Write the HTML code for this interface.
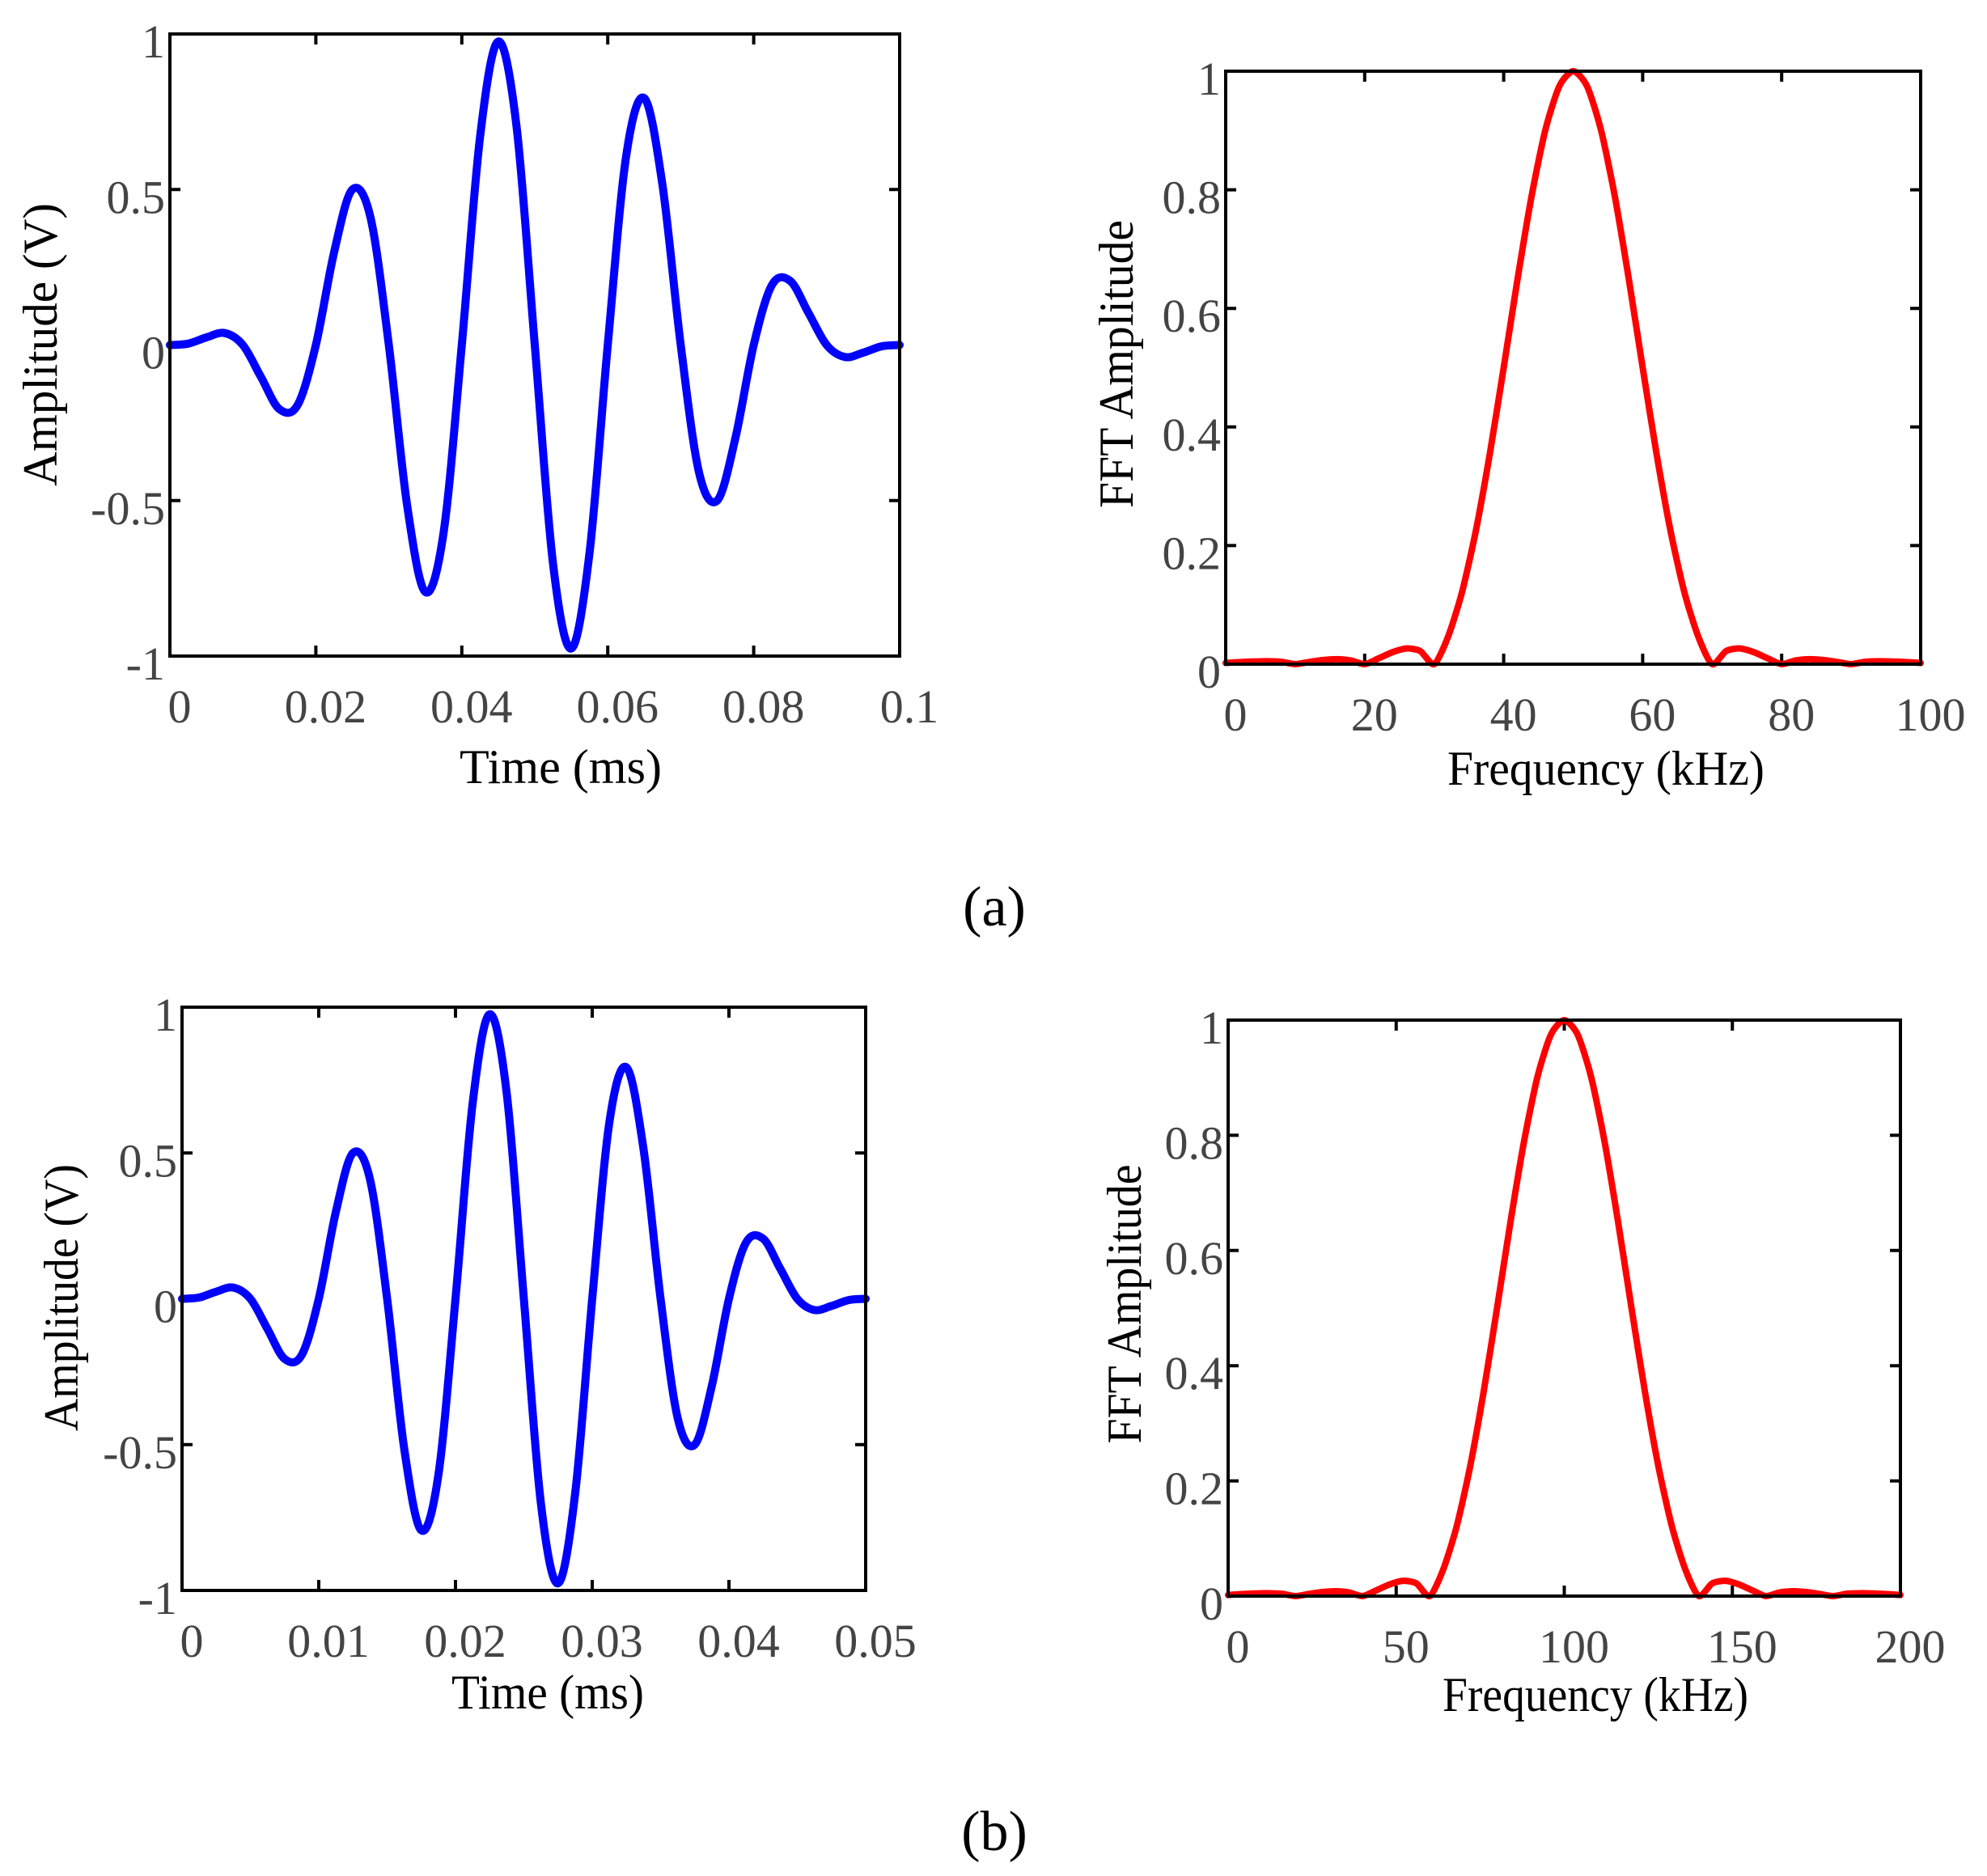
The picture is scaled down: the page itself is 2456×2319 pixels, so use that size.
<!DOCTYPE html>
<html>
<head>
<meta charset="utf-8">
<style>
  html, body { margin: 0; padding: 0; background: #fff; }
  svg { display: block; }
  text { font-family: "Liberation Serif", "DejaVu Serif", serif; }
</style>
</head>
<body>
<svg id="fig" width="2456" height="2319" viewBox="0 0 2456 2319" xmlns="http://www.w3.org/2000/svg">
  <text x="1229" y="1144" font-size="70" text-anchor="middle" fill="#000">(a)</text>
  <text x="1229" y="2287" font-size="70" text-anchor="middle" fill="#000">(b)</text>
</svg>
<script>
// ---- Data ----
const timeSignalA = [0, 0.0044, 0.0245, 0.0385, 0, -0.1036, -0.2061, -0.1930, 0, 0.2982, 0.5, 0.4089, 0, -0.5141, -0.7939, -0.6036, 0, 0.6686, 0.9755, 0.7028, 0, -0.7028, -0.9755, -0.6686, 0, 0.6036, 0.7939, 0.5141, 0, -0.4089, -0.5, -0.2982, 0, 0.1930, 0.2061, 0.1036, 0, -0.0385, -0.0245, -0.0044, 0];
const timeStepA = 0.0025; // ms
const timeSignalB = [0, 0.0044, 0.0245, 0.0385, 0, -0.1036, -0.2061, -0.1930, 0, 0.2982, 0.5, 0.4089, 0, -0.5141, -0.7939, -0.6036, 0, 0.6686, 0.9755, 0.7028, 0, -0.7028, -0.9755, -0.6686, 0, 0.6036, 0.7939, 0.5141, 0, -0.4089, -0.5, -0.2982, 0, 0.1930, 0.2061, 0.1036, 0, -0.0385, -0.0245, -0.0044, 0];
const timeStepB = 0.00125; // ms
const fftA = [0.002, 0.0035, 0.0045, 0.005, 0.004, 0, 0.0037, 0.007, 0.0084, 0.0063, 0, 0.0098, 0.0202, 0.0265, 0.0221, 0, 0.0464, 0.1213, 0.2252, 0.3544, 0.5, 0.6497, 0.7884, 0.901, 0.9745, 1, 0.9745, 0.901, 0.7884, 0.6497, 0.5, 0.3544, 0.2252, 0.1213, 0.0464, 0, 0.0221, 0.0265, 0.0202, 0.0098, 0, 0.0063, 0.0084, 0.007, 0.0037, 0, 0.004, 0.005, 0.0045, 0.0035, 0.002];
const freqStepA = 2; // kHz
const fftB = [0.002, 0.0035, 0.0045, 0.005, 0.004, 0, 0.0037, 0.007, 0.0084, 0.0063, 0, 0.0098, 0.0202, 0.0265, 0.0221, 0, 0.0464, 0.1213, 0.2252, 0.3544, 0.5, 0.6497, 0.7884, 0.901, 0.9745, 1, 0.9745, 0.901, 0.7884, 0.6497, 0.5, 0.3544, 0.2252, 0.1213, 0.0464, 0, 0.0221, 0.0265, 0.0202, 0.0098, 0, 0.0063, 0.0084, 0.007, 0.0037, 0, 0.004, 0.005, 0.0045, 0.0035, 0.002];
const freqStepB = 4; // kHz
const xTicksA1 = [0, 0.02, 0.04, 0.06, 0.08, 0.1];
const xTickLabelsA1 = ["0", "0.02", "0.04", "0.06", "0.08", "0.1"];
const yTicksAmp = [-1, -0.5, 0, 0.5, 1];
const yTickLabelsAmp = ["-1", "-0.5", "0", "0.5", "1"];
const xTicksA2 = [0, 20, 40, 60, 80, 100];
const xTickLabelsA2 = ["0", "20", "40", "60", "80", "100"];
const yTicksFft = [0, 0.2, 0.4, 0.6, 0.8, 1];
const yTickLabelsFft = ["0", "0.2", "0.4", "0.6", "0.8", "1"];
const xTicksB1 = [0, 0.01, 0.02, 0.03, 0.04, 0.05];
const xTickLabelsB1 = ["0", "0.01", "0.02", "0.03", "0.04", "0.05"];
const xTicksB2 = [0, 50, 100, 150, 200];
const xTickLabelsB2 = ["0", "50", "100", "150", "200"];

const NS = "http://www.w3.org/2000/svg";
const svg = document.getElementById("fig");
function mk(tag, attrs, parent) {
  const e = document.createElementNS(NS, tag);
  for (const k in attrs) e.setAttribute(k, attrs[k]);
  (parent || svg).appendChild(e);
  return e;
}

function drawPanel(cfg) {
  const g = mk("g", {});
  
  
  const sx = v => cfg.x0 + (v - cfg.xmin) / (cfg.xmax - cfg.xmin) * (cfg.x1 - cfg.x0);
  const sy = v => cfg.y1 - (v - cfg.ymin) / (cfg.ymax - cfg.ymin) * (cfg.y1 - cfg.y0);
  const TL = 13;
  cfg.xticks.forEach((t, i) => {
    const x = sx(t);
    const tk = mk("path", {d: `M${x},${cfg.y1}v${-TL}M${x},${cfg.y0}v${TL}`, stroke: "#000", "stroke-width": 4}, g);
    
    
    const lb = mk("text", {x: x + cfg.xLabelShift, y: cfg.y1 + 82, "font-size": 58, fill: "#444", "text-anchor": "middle"}, g);
    lb.textContent = cfg.xlabels[i];
    
    
  });
  cfg.yticks.forEach((t, i) => {
    const y = sy(t);
    const tk = mk("path", {d: `M${cfg.x0},${y}h${TL}M${cfg.x1},${y}h${-TL}`, stroke: "#000", "stroke-width": 4}, g);
    
    
    const lb = mk("text", {x: cfg.x0 - 6, y: y + 29, "font-size": 58, fill: "#444", "text-anchor": "end"}, g);
    lb.textContent = cfg.ylabels[i];
    
    
  });
  const pts = cfg.values.map((v, i) => [sx(i * cfg.step), sy(v)]);
  let d = `M${pts[0][0]},${pts[0][1]}`;
  for (let i = 0; i < pts.length - 1; i++) {
    const p0 = pts[Math.max(0, i - 1)], p1 = pts[i], p2 = pts[i + 1], p3 = pts[Math.min(pts.length - 1, i + 2)];
    const k = cfg.tension;
    const c1x = p1[0] + (p2[0] - p0[0]) * k, c1y = p1[1] + (p2[1] - p0[1]) * k;
    const c2x = p2[0] - (p3[0] - p1[0]) * k, c2y = p2[1] - (p3[1] - p1[1]) * k;
    d += `C${c1x},${c1y} ${c2x},${c2y} ${p2[0]},${p2[1]}`;
  }
  const line = mk("path", {d: d, fill: "none", stroke: cfg.color, "stroke-width": cfg.lw, "stroke-linejoin": "round", "stroke-linecap": "round"}, g);
  
  
  const box = mk("rect", {x: cfg.x0, y: cfg.y0, width: cfg.x1 - cfg.x0, height: cfg.y1 - cfg.y0, fill: "none", stroke: "#000", "stroke-width": 4}, g);
  
  
  const xt = mk("text", {x: cfg.xtx, y: cfg.xty, "font-size": 60, fill: "#000", "text-anchor": "middle", textLength: cfg.xtw, lengthAdjust: "spacingAndGlyphs"}, g);
  xt.textContent = cfg.xtitle;
  
  
  const yt = mk("text", {x: 0, y: 0, "font-size": 60, fill: "#000", "text-anchor": "middle", textLength: cfg.ytw, lengthAdjust: "spacingAndGlyphs", transform: `translate(${cfg.ytx},${cfg.yty}) rotate(-90)`}, g);
  yt.textContent = cfg.ytitle;
  
  
}

drawPanel({name: "time-plot-a", seriesName: "time-signal-a", x0: 210, x1: 1112, y0: 42, y1: 811, xmin: 0, xmax: 0.1, ymin: -1, ymax: 1,
  xticks: xTicksA1, xlabels: xTickLabelsA1, yticks: yTicksAmp, ylabels: yTickLabelsAmp, values: timeSignalA, step: timeStepA,
  tension: 1/6, color: "#0000ff", lw: 10, xLabelShift: 12, xtitle: "Time (ms)", xtx: 693, xty: 968, xtw: 250, ytitle: "Amplitude (V)", ytx: 70, yty: 426, ytw: 350});
drawPanel({name: "fft-plot-a", seriesName: "fft-spectrum-a", x0: 1515, x1: 2374, y0: 88, y1: 821, xmin: 0, xmax: 100, ymin: 0, ymax: 1,
  xticks: xTicksA2, xlabels: xTickLabelsA2, yticks: yTicksFft, ylabels: yTickLabelsFft, values: fftA, step: freqStepA,
  tension: 0.12, color: "#ff0000", lw: 8, xLabelShift: 12, xtitle: "Frequency (kHz)", xtx: 1985, xty: 970, xtw: 392, ytitle: "FFT Amplitude", ytx: 1400, yty: 450, ytw: 356});
drawPanel({name: "time-plot-b", seriesName: "time-signal-b", x0: 225, x1: 1070, y0: 1245, y1: 1966, xmin: 0, xmax: 0.05, ymin: -1, ymax: 1,
  xticks: xTicksB1, xlabels: xTickLabelsB1, yticks: yTicksAmp, ylabels: yTickLabelsAmp, values: timeSignalB, step: timeStepB,
  tension: 1/6, color: "#0000ff", lw: 10, xLabelShift: 12, xtitle: "Time (ms)", xtx: 677, xty: 2112, xtw: 238, ytitle: "Amplitude (V)", ytx: 96, yty: 1604, ytw: 330});
drawPanel({name: "fft-plot-b", seriesName: "fft-spectrum-b", x0: 1518, x1: 2349, y0: 1261, y1: 1973, xmin: 0, xmax: 200, ymin: 0, ymax: 1,
  xticks: xTicksB2, xlabels: xTickLabelsB2, yticks: yTicksFft, ylabels: yTickLabelsFft, values: fftB, step: freqStepB,
  tension: 0.12, color: "#ff0000", lw: 8, xLabelShift: 12, xtitle: "Frequency (kHz)", xtx: 1972, xty: 2115, xtw: 378, ytitle: "FFT Amplitude", ytx: 1410, yty: 1612, ytw: 345});
</script>
</body>
</html>
